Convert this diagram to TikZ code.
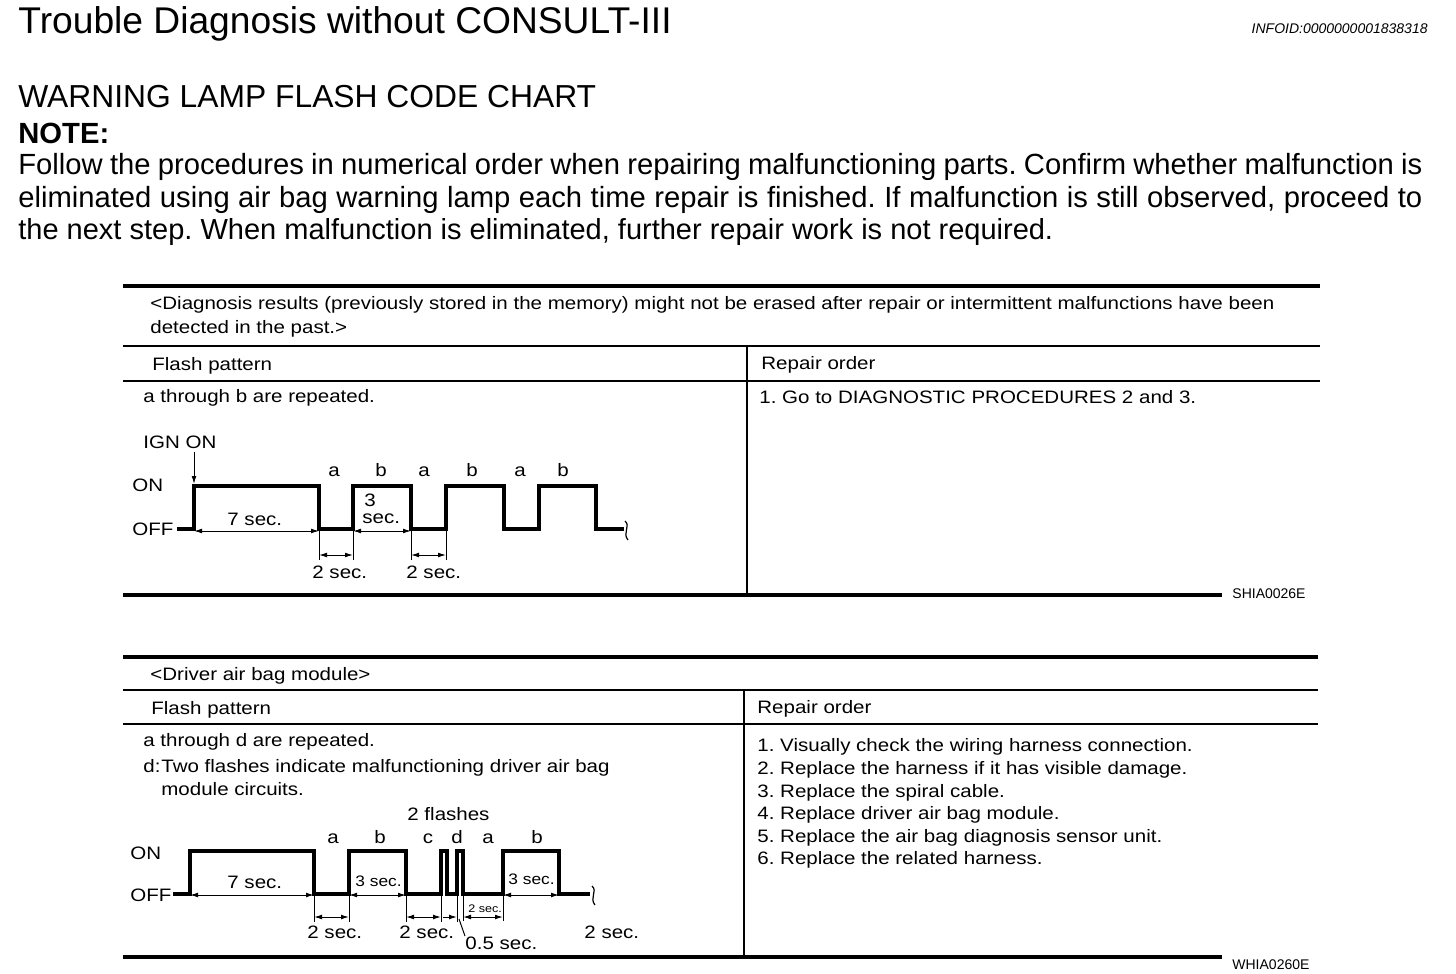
\documentclass[tikz,border=0pt]{standalone}
\usepackage{fontspec}
\setmainfont{Liberation Sans}
\newfontfamily\tabfont[FakeStretch=1.14]{Liberation Sans}
\usetikzlibrary{arrows.meta}
\frenchspacing
\begin{document}
\frenchspacing
\begin{tikzpicture}[x=0.5pt,y=-0.5pt,
  tx/.style={anchor=base west, inner sep=0pt, font=\tabfont\fontsize{9}{11}\selectfont},
  smtx/.style={anchor=base west, inner sep=0pt, font=\tabfont\fontsize{7.6}{9}\selectfont},
  lbl/.style={anchor=base, inner sep=0pt, font=\tabfont\fontsize{9}{11}\selectfont},
  idtx/.style={anchor=base west, inner sep=0pt, font=\fontsize{7}{8}\selectfont},
  thickrule/.style={line width=2pt},
  thinrule/.style={line width=1pt},
  wave/.style={line width=1.6pt, line join=miter},
  extl/.style={line width=0.5pt},
  dimarrow/.style={line width=0.5pt, {Latex[length=4pt,width=2.4pt]}-{Latex[length=4pt,width=2.4pt]}},
  onearrow/.style={line width=0.5pt, -{Latex[length=4pt,width=2.4pt]}}
]
\useasboundingbox (0,0) rectangle (1456,974);
\fill[white] (0,0) rectangle (1456,974);

% ---------- header ----------
\node[anchor=base west, inner sep=0pt, font=\fontsize{18.6}{20}\selectfont] (title) at (18,34) {Trouble Diagnosis without CONSULT-III};
\node[anchor=base east, inner sep=0pt, font=\fontsize{7}{8}\selectfont\itshape] (infoid) at (1428,34) {INFOID:0000000001838318};
\node[anchor=base west, inner sep=0pt, font=\fontsize{15.9}{18}\selectfont] (chart) at (18,108) {WARNING LAMP FLASH CODE CHART};
\node[anchor=base west, inner sep=0pt, font=\fontsize{14.6}{16}\selectfont\bfseries] (note) at (18,143) {NOTE:};
\node[anchor=base west, inner sep=0pt, font=\fontsize{14.6}{16}\selectfont] (body1) at (18,175) {\hbox to 702pt{Follow the procedures in numerical order when repairing malfunctioning parts. Confirm whether malfunction is}};
\node[anchor=base west, inner sep=0pt, font=\fontsize{14.6}{16}\selectfont] (body2) at (18,207) {\hbox to 702pt{eliminated using air bag warning lamp each time repair is finished. If malfunction is still observed, proceed to}};
\node[anchor=base west, inner sep=0pt, font=\fontsize{14.5}{16}\selectfont] (body3) at (18,239) {the next step. When malfunction is eliminated, further repair work is not required.};

% ---------- table 1 ----------
\draw[thickrule] (123,286) -- (1320,286);
\node[tx] (t1h1) at (150,309) {<Diagnosis results (previously stored in the memory) might not be erased after repair or intermittent malfunctions have been};
\node[tx] (t1h2) at (150,333) {detected in the past.>};
\draw[thinrule] (123,346) -- (1320,346);
\node[tx] (t1fp) at (152,370) {Flash pattern};
\node[tx] (t1ro) at (761,369) {Repair order};
\draw[thinrule] (123,381) -- (1320,381);
\draw[thinrule] (747,346) -- (747,594);
\node[tx] (t1rep) at (143,402) {a through b are repeated.};
\node[tx] (t1r1) at (759,403) {1. Go to DIAGNOSTIC PROCEDURES 2 and 3.};
\draw[thickrule] (123,595) -- (1222,595);
\node[idtx] (shia) at (1232,598) {SHIA0026E};

% waveform 1
\node[tx] (ign) at (143,448) {IGN ON};
\coordinate (igntip) at (194,484);
\draw[onearrow] (ign.south -| igntip) ++(0,3) -- (igntip);
\node[tx] (on1) at (132,491) {ON};
\node[tx] (off1) at (132,535) {OFF};
\draw[wave] (177,529) -- (194,529) -- (194,486) -- (319,486) -- (319,529) -- (353,529) -- (353,486) -- (411,486) -- (411,529) -- (446,529) -- (446,486) -- (504,486) -- (504,529) -- (539,529) -- (539,486) -- (596,486) -- (596,529) -- (624,529);
\draw[line width=0.6pt] (625,521) .. controls (631,526) and (622,533) .. (628,540);
\node[lbl] (w1a1) at (334,476) {a};
\node[lbl] (w1b1) at (381,476) {b};
\node[lbl] (w1a2) at (424,476) {a};
\node[lbl] (w1b2) at (472,476) {b};
\node[lbl] (w1a3) at (520,476) {a};
\node[lbl] (w1b3) at (563,476) {b};
\draw[dimarrow] (194,531) -- (319,531);
\node[tx] (w1s7) at (227,525) {7 sec.};
\draw[dimarrow] (353,531) -- (411,531);
\node[tx] (w1s3a) at (364,506) {3};
\node[tx] (w1s3b) at (362,523) {sec.};
\draw[extl] (319,531) -- (319,560);
\draw[extl] (353,531) -- (353,560);
\draw[dimarrow] (319,555) -- (353,555);
\node[tx] (w1s2a) at (312,578) {2 sec.};
\draw[extl] (411,531) -- (411,560);
\draw[extl] (446,531) -- (446,560);
\draw[dimarrow] (411,555) -- (446,555);
\node[tx] (w1s2b) at (406,578) {2 sec.};

% ---------- table 2 ----------
\draw[thickrule] (123,657) -- (1318,657);
\node[tx] (t2h) at (150,680) {<Driver air bag module>};
\draw[thinrule] (123,690) -- (1318,690);
\node[tx] (t2fp) at (151,714) {Flash pattern};
\node[tx] (t2ro) at (757,713) {Repair order};
\draw[thinrule] (123,724) -- (1318,724);
\draw[thinrule] (744,690) -- (744,955);
\node[tx] (t2rep) at (143,746) {a through d are repeated.};
\node[tx] (t2d) at (143,772) {d:};
\node[tx] (t2d1) at (161,772) {Two flashes indicate malfunctioning driver air bag};
\node[tx] (t2d2) at (161,795) {module circuits.};
\node[tx] (t2r1) at (757,751) {1. Visually check the wiring harness connection.};
\node[tx] (t2r2) at (757,774) {2. Replace the harness if it has visible damage.};
\node[tx] (t2r3) at (757,797) {3. Replace the spiral cable.};
\node[tx] (t2r4) at (757,819) {4. Replace driver air bag module.};
\node[tx] (t2r5) at (757,842) {5. Replace the air bag diagnosis sensor unit.};
\node[tx] (t2r6) at (757,864) {6. Replace the related harness.};
\draw[thickrule] (123,957) -- (1222,957);
\node[idtx] (whia) at (1232,969) {WHIA0260E};

% waveform 2
\node[tx] (flashes) at (407,820) {2 flashes};
\node[tx] (on2) at (130,859) {ON};
\node[tx] (off2) at (130,901) {OFF};
\draw[wave] (173,894) -- (190,894) -- (190,851) -- (314,851) -- (314,894) -- (349,894) -- (349,851) -- (406,851) -- (406,894) -- (441,894) -- (441,851) -- (447,851) -- (447,894) -- (457,894) -- (457,851) -- (463,851) -- (463,894) -- (503,894) -- (503,851) -- (559,851) -- (559,894) -- (590,894);
\draw[line width=0.6pt] (592,886) .. controls (598,891) and (589,898) .. (595,905);
\node[lbl] (w2a1) at (333,843) {a};
\node[lbl] (w2b1) at (380,843) {b};
\node[lbl] (w2c) at (428,843) {c};
\node[lbl] (w2d) at (457,843) {d};
\node[lbl] (w2a2) at (488,843) {a};
\node[lbl] (w2b2) at (537,843) {b};
\draw[dimarrow] (190,895) -- (314,895);
\node[tx] (w2s7) at (227,888) {7 sec.};
\draw[dimarrow] (349,895) -- (406,895);
\node[smtx] (w2s3a) at (355,886) {3 sec.};
\draw[dimarrow] (503,895) -- (559,895);
\node[smtx] (w2s3b) at (508,884) {3 sec.};
\draw[extl] (314,895) -- (314,922);
\draw[extl] (349,895) -- (349,922);
\draw[dimarrow] (314,917) -- (349,917);
\node[tx] (w2s2a) at (307,938) {2 sec.};
\draw[extl] (406,895) -- (406,922);
\draw[extl] (441,895) -- (441,922);
\draw[dimarrow] (406,917) -- (441,917);
\node[tx] (w2s2b) at (399,938) {2 sec.};
\draw[extl] (457,895) -- (457,922);
\draw[onearrow] (443,917) -- (457,917);
\node[tx] (w2s05) at (465,949) {0.5 sec.};
\draw[extl] (459,919) -- (w2s05.north west);
\draw[extl] (463,895) -- (463,921);
\draw[extl] (503,895) -- (503,921);
\draw[dimarrow] (463,917) -- (503,917);
\node[anchor=base west, inner sep=0pt, font=\tabfont\fontsize{5.5}{6}\selectfont] (w2s2c) at (468,912) {2 sec.};
\node[tx] (w2s2d) at (584,938) {2 sec.};
\end{tikzpicture}
\end{document}
